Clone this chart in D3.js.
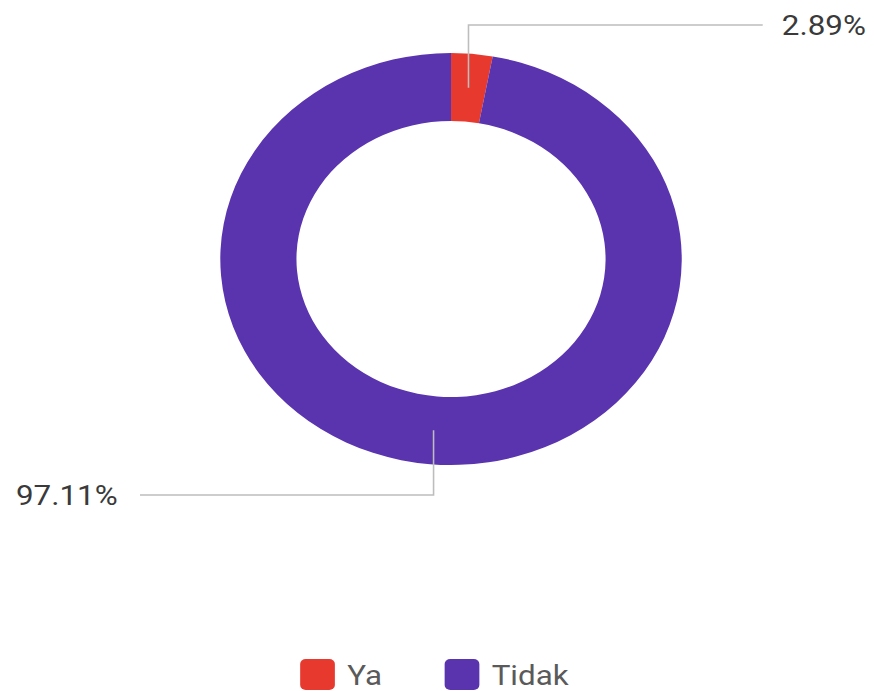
<!DOCTYPE html>
<html><head><meta charset="utf-8">
<script src="https://cdn.jsdelivr.net/npm/d3@7"></script>
<style>html,body{margin:0;padding:0;background:#fff;}svg{display:block;font-family:Roboto,sans-serif;}</style>
</head><body><div id="chart"></div>
<script>
const categories = ["Ya", "Tidak"];
const values = [2.89, 97.11];
const labels = ["2.89%", "97.11%"];
const colors = ["#e8392f", "#5a33ae"];

const W = 874, H = 691, SX = 1.12;
const svg = d3.select("#chart").append("svg").attr("width", W).attr("height", H);
const root = svg.append("g").attr("transform", `scale(${SX},1)`);

const cx = 402.7, cy = 259, rOut = 206, rIn = 138;
const pie = d3.pie().sort(null).value(d => d)(values);
const arc = d3.arc().innerRadius(rIn).outerRadius(rOut);

const g = root.append("g").attr("transform", `translate(${cx},${cy})`);
g.selectAll("path").data(pie).join("path")
  .attr("d", arc).attr("fill", (d, i) => colors[i]);

// leader lines + labels
const labelY = [25 - cy, 495 - cy];
const lineEndX = [681 - cx, 125 - cx];
const textX = [698 - cx, 105 - cx];
pie.forEach((d, i) => {
  const [x0, y0] = arc.centroid(d);
  g.append("polyline")
    .attr("points", [[x0, y0], [x0, labelY[i]], [lineEndX[i], labelY[i]]].map(p => p.join(",")).join(" "))
    .attr("fill", "none").attr("stroke", "#bdbdbd").attr("stroke-width", 1.4);
  g.append("text")
    .attr("x", textX[i]).attr("y", labelY[i]).attr("dy", "0.35em")
    .attr("text-anchor", i === 0 ? "start" : "end")
    .attr("font-size", 28).attr("fill", "#3a3a3a")
    .text(labels[i]);
});

// legend
const legend = root.append("g").attr("transform", "translate(268,659)");
const itemX = [0, 129];
categories.forEach((c, i) => {
  const it = legend.append("g").attr("transform", `translate(${itemX[i]},0)`);
  it.append("rect").attr("width", 31).attr("height", 31).attr("rx", 5).attr("fill", colors[i]);
  it.append("text").attr("x", 42).attr("y", 16).attr("dy", "0.35em")
    .attr("font-size", 28).attr("fill", "#5a5a5a").text(c);
});
</script></body></html>
